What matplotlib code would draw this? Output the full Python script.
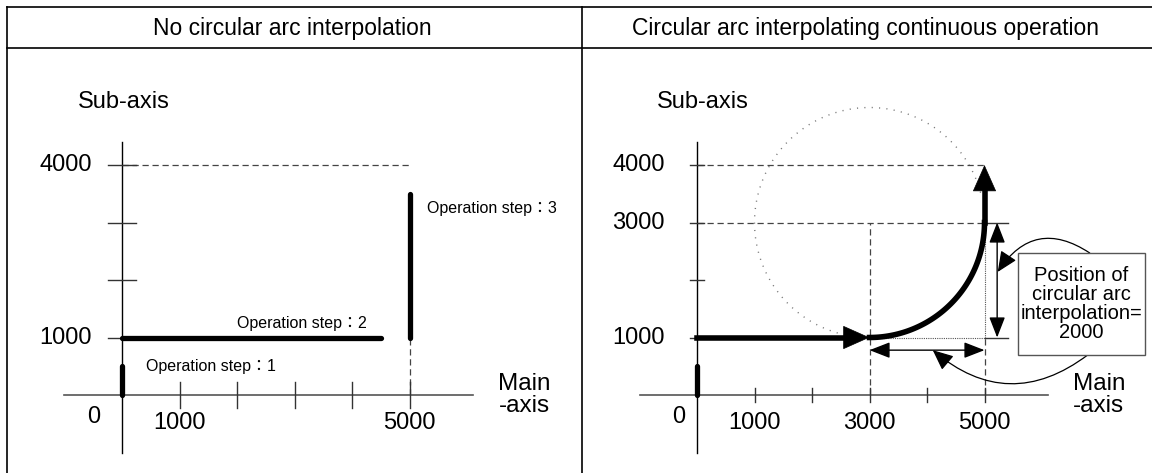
import numpy as np
import matplotlib
matplotlib.use('Agg')
import matplotlib.pyplot as plt
from matplotlib.patches import FancyArrowPatch, Rectangle

plt.rcParams['font.family'] = ['Liberation Sans', 'Noto Sans CJK KR', 'DejaVu Sans']

# Figure layout (pixels)
W, H = 1152, 473
HEADER_TOP = 7
HEADER_Y = 48
SPLIT_X = 582
PX_PER_UNIT = 0.0575

# Data
titles = ['No circular arc interpolation', 'Circular arc interpolating continuous operation']
main_ticks = [1000, 2000, 3000, 4000, 5000]
sub_ticks = [1000, 2000, 3000, 4000]
left_main_labels = [1000, 5000]
left_sub_labels = [1000, 4000]
right_main_labels = [1000, 3000, 5000]
right_sub_labels = [1000, 3000, 4000]

# no interpolation: three separate operation steps
step_main = [[0, 0], [0, 4500], [5000, 5000]]
step_sub = [[0, 500], [1000, 1000], [1000, 3500]]
step_names = ['Operation step\uff1a1', 'Operation step\uff1a2', 'Operation step\uff1a3']

# continuous operation with circular arc
line_main = [0, 3000]
line_sub = [1000, 1000]
arc_center = (3000, 3000)
arc_radius = 2000
end_main = [5000, 5000]
end_sub = [3000, 4000]
arc_position = 2000

DASH = dict(color='#444444', lw=0.9, ls=(0, (5, 3)))
TICK_FS = 17


def panel_axes(fig, x0, x1, origin_x, origin_y):
    ax = fig.add_axes([x0 / W, 0, (x1 - x0) / W, (H - HEADER_Y) / H])
    ax.set_xlim((x0 - origin_x) / PX_PER_UNIT, (x1 - origin_x) / PX_PER_UNIT)
    ax.set_ylim((origin_y - H) / PX_PER_UNIT, (origin_y - HEADER_Y) / PX_PER_UNIT)
    ax.axis('off')
    return ax


def draw_axes(ax, tick_len_x, tick_len_y):
    ax.plot([-1000, 6100], [0, 0], color='#555555', lw=1.2)
    ax.plot([0, 0], [-1000, 4400], color='black', lw=1.0)
    for t in main_ticks:
        ax.plot([t, t], [-tick_len_x, tick_len_x], color='#333333', lw=1.0)
    for t in sub_ticks:
        ax.plot([-tick_len_y, tick_len_y], [t, t], color='#333333', lw=1.0)


def arrow_head(ax, start, end, size=20):
    ax.annotate('', xy=end, xytext=start,
                arrowprops=dict(arrowstyle='-|>,head_length=0.9,head_width=0.4',
                                color='black', lw=0.5, shrinkA=0, shrinkB=0,
                                mutation_scale=size))


fig = plt.figure(figsize=(W / 100, H / 100), dpi=100)

# table frame
frame = fig.add_axes([0, 0, 1, 1])
frame.set_xlim(0, W)
frame.set_ylim(H, 0)
frame.axis('off')
frame.plot([HEADER_TOP, W], [HEADER_TOP, HEADER_TOP], color='black', lw=1.2)
frame.plot([HEADER_TOP, W], [HEADER_Y, HEADER_Y], color='black', lw=1.2)
frame.plot([HEADER_TOP, HEADER_TOP], [HEADER_TOP, H], color='black', lw=1.2)
frame.plot([SPLIT_X, SPLIT_X], [HEADER_TOP, H], color='black', lw=1.2)
frame.text((HEADER_TOP + SPLIT_X) / 2 - 2, (HEADER_TOP + HEADER_Y) / 2 + 1, titles[0],
           ha='center', va='center', fontsize=16.5)
frame.text((SPLIT_X + W) / 2 - 2, (HEADER_TOP + HEADER_Y) / 2 + 1, titles[1],
           ha='center', va='center', fontsize=16.5)

# ---- left panel ----
ax1 = panel_axes(fig, HEADER_TOP + 1, SPLIT_X, 122, 395)
ax1.plot([0, 5000], [4000, 4000], **DASH)
ax1.plot([5000, 5000], [0, 1000], **DASH)
draw_axes(ax1, 230, 250)
for m, s in zip(step_main, step_sub):
    ax1.plot(m, s, color='black', lw=3.8, solid_capstyle='round')
ax1.text(420, 490, step_names[0], fontsize=11.5, va='center')
ax1.text(2000, 1250, step_names[1], fontsize=11.5, va='center')
ax1.text(5300, 3235, step_names[2], fontsize=11.5, va='center')
for t in left_sub_labels:
    ax1.text(-520, t, str(t), ha='right', va='center', fontsize=TICK_FS)
for t in left_main_labels:
    ax1.text(t, -490, str(t), ha='center', va='center', fontsize=TICK_FS)
ax1.text(-500, -390, '0', ha='center', va='center', fontsize=TICK_FS)
ax1.text(-765, 5100, 'Sub-axis', ha='left', va='center', fontsize=TICK_FS)
ax1.text(7000, 0, 'Main\n-axis', ha='center', va='center', fontsize=17.5, linespacing=1.0)

# ---- right panel ----
ax2 = panel_axes(fig, SPLIT_X + 1, W, 697, 395)
theta = np.radians(np.linspace(15, 268, 200))
ax2.plot(arc_center[0] + arc_radius * np.cos(theta),
         arc_center[1] + arc_radius * np.sin(theta),
         color='#777777', lw=1.0, ls=(0, (0.8, 4.5)))
ax2.plot([0, 5000], [4000, 4000], **DASH)
ax2.plot([0, 5000], [3000, 3000], **DASH)
ax2.plot([3000, 3000], [0, 3000], **DASH)
ax2.plot([5000, 5000], [0, 1000], **DASH)
ax2.plot([3000, 5000], [1000, 1000], color='#555555', lw=0.8, ls=(0, (1, 1)))
ax2.plot([5000, 5000], [1000, 3000], color='#555555', lw=0.8, ls=(0, (1, 1)))
ax2.plot([5000, 5400], [3000, 3000], color='#333333', lw=1.0)
ax2.plot([5000, 5400], [1000, 1000], color='#333333', lw=1.0)
draw_axes(ax2, 120, 120)

ax2.plot([0, 0], step_sub[0], color='black', lw=3.8, solid_capstyle='round')
ax2.plot([line_main[0], line_main[1] - 300], line_sub, color='black', lw=4.0)
arrow_head(ax2, (line_main[1] - 400, line_sub[1]), (line_main[1], line_sub[1]))
phi = np.radians(np.linspace(270, 360, 100))
ax2.plot(arc_center[0] + arc_radius * np.cos(phi),
         arc_center[1] + arc_radius * np.sin(phi), color='black', lw=4.0)
ax2.plot(end_main, [end_sub[0], end_sub[1] - 300], color='black', lw=4.0)
arrow_head(ax2, (end_main[1], end_sub[1] - 400), (end_main[1], end_sub[1]))

# dimension arrows
ax2.add_patch(FancyArrowPatch((5220, 3000), (5220, 1000),
                              arrowstyle='<|-|>,head_length=0.9,head_width=0.35',
                              mutation_scale=14, color='black', lw=1.0,
                              shrinkA=0, shrinkB=0))
ax2.add_patch(FancyArrowPatch((3000, 780), (5000, 780),
                              arrowstyle='<|-|>,head_length=0.9,head_width=0.35',
                              mutation_scale=14, color='black', lw=1.0,
                              shrinkA=0, shrinkB=0))

# label box and leaders
bx0, bx1, by0, by1 = 5580, 7790, 700, 2470
ax2.add_patch(Rectangle((bx0, by0), bx1 - bx0, by1 - by0, facecolor='white',
                        edgecolor='#555555', lw=1.0, zorder=3))
ax2.text((bx0 + bx1) / 2, (by0 + by1) / 2,
         'Position of\ncircular arc\ninterpolation=\n' + str(arc_position),
         ha='center', va='center', fontsize=14.5, linespacing=1.0, zorder=4)
ax2.add_patch(FancyArrowPatch((6830, by1), (5230, 2140),
                              connectionstyle='arc3,rad=0.5',
                              arrowstyle='-|>,head_length=0.9,head_width=0.4',
                              mutation_scale=14, color='black', lw=0.9,
                              shrinkA=0, shrinkB=0, zorder=2))
ax2.add_patch(FancyArrowPatch((6800, by0), (4100, 780),
                              connectionstyle='arc3,rad=-0.4',
                              arrowstyle='-|>,head_length=0.9,head_width=0.4',
                              mutation_scale=14, color='black', lw=0.9,
                              shrinkA=0, shrinkB=0, zorder=2))

for t in right_sub_labels:
    ax2.text(-560, t, str(t), ha='right', va='center', fontsize=TICK_FS)
for t in right_main_labels:
    ax2.text(t, -490, str(t), ha='center', va='center', fontsize=TICK_FS)
ax2.text(-315, -390, '0', ha='center', va='center', fontsize=TICK_FS)
ax2.text(-700, 5100, 'Sub-axis', ha='left', va='center', fontsize=TICK_FS)
ax2.text(6990, 0, 'Main\n-axis', ha='center', va='center', fontsize=17.5, linespacing=1.0)

fig.savefig('out.png', dpi=100)
